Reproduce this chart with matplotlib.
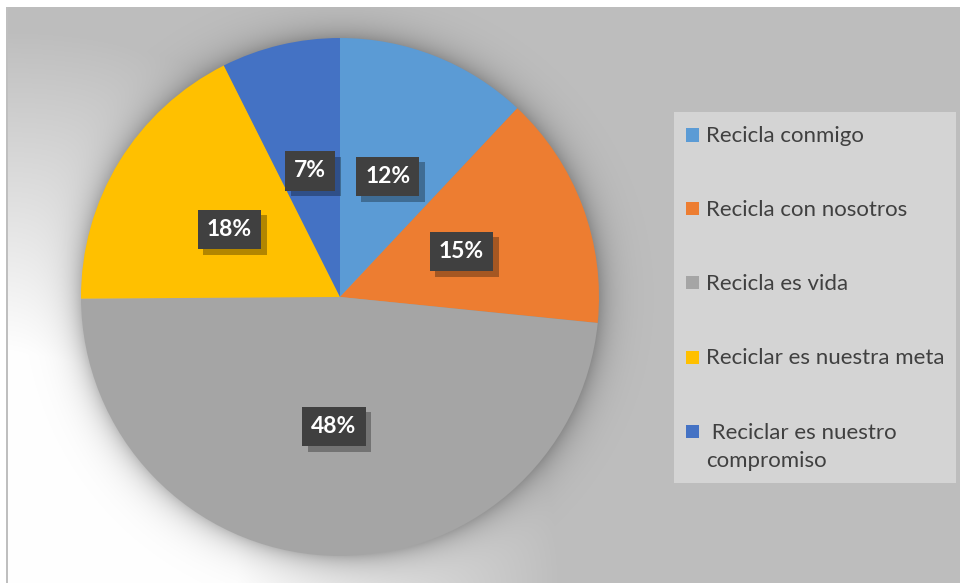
import numpy as np
import matplotlib
matplotlib.use("Agg")
import matplotlib.pyplot as plt
import matplotlib.patheffects as pe
from matplotlib.patches import Rectangle

labels = ['Recicla conmigo', 'Recicla con nosotros', 'Recicla es vida',
          'Reciclar es nuestra meta', ' Reciclar es nuestro\ncompromiso']
shares = [12.0, 14.6, 48.3, 17.7, 7.4]
colors = ['#5B9BD5', '#ED7D31', '#A5A5A5', '#FFC000', '#4472C4']

W, H = 960, 583
fig = plt.figure(figsize=(9.6, 5.83), dpi=100)

# background: gray with white corner glow bottom-left + soft shadow round the pie
cx, cy, R = 340, 297, 259
bg = fig.add_axes([0, 0, 1, 1])
yy, xx = np.mgrid[0:H, 0:W]
d = np.hypot(xx - 7, yy - H)
t = np.clip((d - 230) / 320, 0, 1)
val = 1 - t * (1 - 0.745)
dp = np.hypot(xx - cx, yy - cy)
sh = np.where(dp > R, np.exp(-(dp - R) / 14.0), 1.0) * 0.25
val = val * (1 - sh)
val[:7, :] = 1
val[:, :6] = 1
val[7:, 6:8] = 0.75
bg.imshow(np.dstack([val] * 3), extent=(0, W, H, 0), interpolation='bilinear', aspect='auto')
bg.set_xlim(0, W); bg.set_ylim(H, 0)
bg.axis('off')

# pie
ax = fig.add_axes([(cx - R) / W, (H - cy - R) / H, 2 * R / W, 2 * R / H])
wedges, texts, autotexts = ax.pie(shares, colors=colors, startangle=90, counterclock=False,
                                  autopct='%.0f%%', pctdistance=0.5,
                                  wedgeprops=dict(linewidth=0))
ax.set_xlim(-1, 1); ax.set_ylim(-1, 1)
for at in autotexts:
    at.set_color('white')
    at.set_fontfamily('Lato')
    at.set_fontweight('bold')
    at.set_fontsize(16.5)
    at.set_bbox(dict(boxstyle='square,pad=0.4', fc='#404040', ec='none'))
    at.get_bbox_patch().set_path_effects([
        pe.SimplePatchShadow(offset=(4, -4), shadow_rgbFace='black', alpha=0.3),
        pe.Normal()])

# legend box drawn by hand so the wrapped label keeps its marker on the first line
lx0, ly0, lx1, ly1 = 674, 112, 956, 483
fig.patches.append(Rectangle((lx0 / W, 1 - ly1 / H), (lx1 - lx0) / W, (ly1 - ly0) / H,
                             transform=fig.transFigure, fc='#d4d4d4', ec='none', zorder=0))
row_y = [135, 209, 283, 357, 431]
for lab, col, y in zip(labels, colors, row_y):
    fig.patches.append(Rectangle((686 / W, 1 - (y + 6.5) / H), 13 / W, 13 / H,
                                 transform=fig.transFigure, fc=col, ec='none'))
    # baseline alignment sits on the last line, so push wrapped labels down
    base = y + 7 + 29 * lab.count('\n')
    fig.text(706 / W, 1 - base / H, lab, ha='left', va='baseline', fontsize=16,
             family='Lato', color='#404040', linespacing=1.5)

fig.savefig('out.png', dpi=100)
